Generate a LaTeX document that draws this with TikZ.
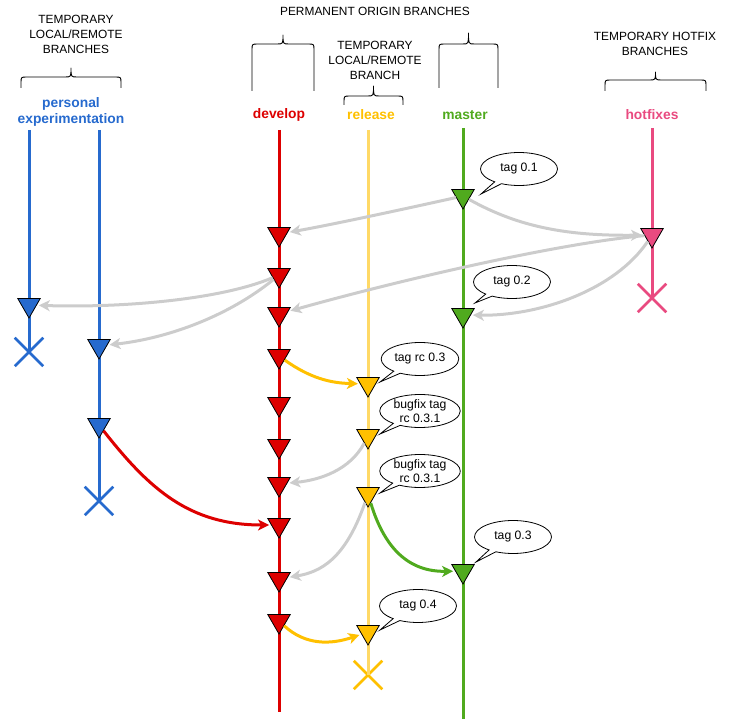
\documentclass[tikz,border=0pt]{standalone}
\usepackage{fontspec}
\setmainfont{Liberation Sans}
\usetikzlibrary{shapes.geometric,shapes.misc,shapes.callouts,arrows.meta}

\definecolor{persblue}{RGB}{38,106,206}
\definecolor{devred}{RGB}{221,0,0}
\definecolor{relline}{RGB}{255,217,102}
\definecolor{relfill}{RGB}{255,192,0}
\definecolor{masgreen}{RGB}{80,170,30}
\definecolor{hotpink}{RGB}{233,74,128}
\definecolor{mergegray}{RGB}{204,204,204}

\tikzset{
  commit/.style={regular polygon, regular polygon sides=3, shape border rotate=180,
    draw=black, line width=0.8pt, minimum size=26pt, inner sep=0pt},
  branch/.style={line width=3pt},
  endmark/.style={cross out, draw, line width=2.5pt, minimum size=26pt, inner sep=0pt},
  merge/.style={line width=3pt, -{Stealth[length=11pt,width=11pt,inset=3pt]}, shorten >=2pt},
  tagbubble/.style={ellipse callout, draw, fill=white, line width=0.8pt,
    minimum width=77pt, minimum height=33pt, inner xsep=2pt, inner ysep=-1pt,
    align=center, font=\fontsize{12.2}{14}\selectfont, callout pointer arc=12},
  header/.style={align=center, font=\fontsize{11.9}{15}\selectfont},
  blabel/.style={align=center, font=\fontsize{13.8}{16}\selectfont\bfseries},
  bracestyle/.style={line width=0.9pt, line join=round},
}

% left x, right x, tip y, bar y, foot y
\newcommand{\topbrace}[5]{%
  \pgfmathsetmacro\bmid{(#1+#2)/2}
  \draw[bracestyle] (#1,#5) -- (#1,#4+6) .. controls (#1,#4) .. (#1+6,#4)
    -- (\bmid-6,#4) .. controls (\bmid,#4) .. (\bmid,#3)
    .. controls (\bmid,#4) .. (\bmid+6,#4)
    -- (#2-6,#4) .. controls (#2,#4) .. (#2,#4+6) -- (#2,#5);
}

\begin{document}
\begin{tikzpicture}[x=1pt, y=-1pt]
  \useasboundingbox (0,0) rectangle (732,719);

  % --- 1. headers and braces ---
  \node[header] (hdr-temp) at (76,34) {TEMPORARY\\LOCAL/REMOTE\\BRANCHES};
  \node[header] (hdr-perm) at (375,11) {PERMANENT ORIGIN BRANCHES};
  \node[header] (hdr-rel) at (375,60) {TEMPORARY\\LOCAL/REMOTE\\BRANCH};
  \node[header] (hdr-hot) at (655,44) {TEMPORARY HOTFIX\\BRANCHES};

  \topbrace{21}{121}{68}{77}{88}
  \topbrace{252}{314}{35}{44}{91}
  \topbrace{439}{498}{33}{44}{88}
  \topbrace{344}{403}{86}{96}{105}
  \topbrace{605}{706}{72}{80}{91}

  % --- 2. branch names ---
  \node[blabel, text=persblue] (lbl-pers) at (71,112) {personal\\experimentation};
  \node[blabel, text=devred] (lbl-dev) at (279,115) {develop};
  \node[blabel, text=relfill] (lbl-rel) at (371,115) {release};
  \node[blabel, text=masgreen] (lbl-mas) at (465,115) {master};
  \node[blabel, text=hotpink] (lbl-hot) at (652,115) {hotfixes};

  % --- 3. branch lines, ends ---
  \coordinate (p1-top) at (29,130);
  \coordinate (p2-top) at (99,130);
  \coordinate (dev-top) at (279,130);
  \coordinate (dev-end) at (279,712);
  \coordinate (rel-top) at (368,130);
  \coordinate (mas-top) at (463,128);
  \coordinate (mas-end) at (463,719);
  \coordinate (hot-top) at (652,128);

  \node[endmark, persblue] (p1-end) at (29,352) {};
  \node[endmark, persblue] (p2-end) at (99,501) {};
  \node[endmark, relfill] (rel-end) at (368,675) {};
  \node[endmark, hotpink] (hot-end) at (652,298) {};

  \draw[branch, persblue] (p1-top) -- (p1-end.center);
  \draw[branch, persblue] (p2-top) -- (p2-end.center);
  \draw[branch, devred] (dev-top) -- (dev-end);
  \draw[branch, relline] (rel-top) -- (rel-end.center);
  \draw[branch, masgreen] (mas-top) -- (mas-end);
  \draw[branch, hotpink] (hot-top) -- (hot-end.center);

  % --- 4. commits ---
  \foreach \y [count=\i] in {234,275,314,356,404,446,484,525,579,621}
    \node[commit, fill=devred] (d\i) at (279,\y) {};
  \foreach \y [count=\i] in {384,436,494,632}
    \node[commit, fill=relfill] (r\i) at (368,\y) {};
  \foreach \y [count=\i] in {196,315,571}
    \node[commit, fill=masgreen] (m\i) at (463,\y) {};
  \node[commit, fill=hotpink] (h1) at (652,235) {};
  \node[commit, fill=persblue] (p1) at (29,305) {};
  \node[commit, fill=persblue] (p2a) at (99,346) {};
  \node[commit, fill=persblue] (p2b) at (99,425) {};

  % --- 5. merges ---
  \draw[merge, mergegray] (m1) .. controls (400,210) and (330,225) .. (d1);
  \draw[merge, mergegray] (m1) .. controls (520,228) and (570,236) .. (h1);
  \draw[merge, mergegray] (h1) .. controls (560,243) and (400,280) .. (d3);
  \draw[merge, mergegray] (h1) .. controls (615,290) and (540,316) .. (m2);
  \draw[merge, mergegray] (d2) .. controls (220,300) and (120,308) .. (p1);
  \draw[merge, mergegray] (d2) .. controls (230,315) and (170,338) .. (p2a);
  \draw[merge, relfill] (d4) .. controls (310,378) and (330,383) .. (r1);
  \draw[merge, mergegray] (r2) .. controls (350,470) and (320,480) .. (d7);
  \draw[merge, mergegray] (r3) .. controls (345,560) and (320,572) .. (d9);
  \draw[merge, masgreen] (r3) .. controls (385,550) and (410,572) .. (m3);
  \draw[merge, devred] (p2b) .. controls (150,490) and (190,525) .. (d8);
  \draw[merge, relfill] (d10) .. controls (305,645) and (330,645) .. (r4);

  % --- 6. tags ---
  \node[tagbubble, callout absolute pointer={(481,194)}] (tag01) at (519,169) {tag 0.1};
  \node[tagbubble, callout absolute pointer={(475,303)}] (tag02) at (512,282) {tag 0.2};
  \node[tagbubble, callout absolute pointer={(380,382)}] (tagrc03) at (420,359) {tag rc 0.3};
  \node[tagbubble, callout absolute pointer={(380,434)}] (fix031a) at (420,411) {bugfix tag\\rc 0.3.1};
  \node[tagbubble, callout absolute pointer={(380,493)}] (fix031b) at (420,471) {bugfix tag\\rc 0.3.1};
  \node[tagbubble, callout absolute pointer={(476,562)}] (tag03) at (513,537) {tag 0.3};
  \node[tagbubble, callout absolute pointer={(380,630)}] (tag04) at (418,606) {tag 0.4};

\end{tikzpicture}
\end{document}
